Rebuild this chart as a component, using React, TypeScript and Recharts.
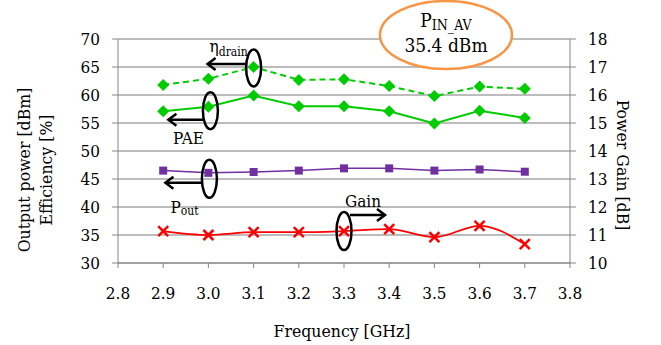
import React from "react";
import {
  ComposedChart,
  Line,
  XAxis,
  YAxis,
  CartesianGrid,
  ReferenceDot,
} from "recharts";

if (typeof document !== "undefined") document.body.style.margin = "0";

const frequency = [2.9, 3.0, 3.1, 3.2, 3.3, 3.4, 3.5, 3.6, 3.7];
const etaDrain = [61.8, 62.9, 65.0, 62.7, 62.8, 61.6, 59.8, 61.5, 61.1];
const pae = [57.1, 57.9, 59.9, 58.0, 58.0, 57.1, 54.9, 57.2, 55.9];
const pout = [46.5, 46.1, 46.25, 46.5, 46.9, 46.9, 46.5, 46.7, 46.3];
const gain = [11.14, 11.0, 11.1, 11.1, 11.14, 11.21, 10.92, 11.33, 10.67];

const freqTicks = [2.8, 2.9, 3.0, 3.1, 3.2, 3.3, 3.4, 3.5, 3.6, 3.7, 3.8];
const leftTicks = [30, 35, 40, 45, 50, 55, 60, 65, 70];
const rightTicks = [10, 11, 12, 13, 14, 15, 16, 17, 18];

const data = frequency.map((f, i) => ({
  f,
  eta: etaDrain[i],
  pae: pae[i],
  pout: pout[i],
  gain: gain[i],
}));

const FONT = "'DejaVu Serif Condensed', 'DejaVu Serif', serif";
const GREEN = "#00cc00";
const PURPLE = "#7030a0";
const RED = "#ff0000";
const AXIS = "#868686";

const Diamond = (p: any) => {
  const { cx, cy, index } = p;
  if (cx == null || cy == null) return <g key={index} />;
  return (
    <path
      key={index}
      d={`M${cx},${cy - 6} L${cx + 6},${cy} L${cx},${cy + 6} L${cx - 6},${cy} Z`}
      fill={GREEN}
    />
  );
};

const Square = (p: any) => {
  const { cx, cy, index } = p;
  if (cx == null || cy == null) return <g key={index} />;
  return <rect key={index} x={cx - 4} y={cy - 4} width={8} height={8} fill={PURPLE} />;
};

const Cross = (p: any) => {
  const { cx, cy, index } = p;
  if (cx == null || cy == null) return <g key={index} />;
  return (
    <path
      key={index}
      d={`M${cx - 5},${cy - 5} L${cx + 5},${cy + 5} M${cx + 5},${cy - 5} L${cx - 5},${cy + 5}`}
      stroke={RED}
      strokeWidth={2.5}
    />
  );
};

const arrowLeft = (x1: number, x2: number, y: number) => (
  <g stroke="#000" strokeWidth={2.5} fill="none">
    <line x1={x1} y1={y} x2={x2} y2={y} />
    <path d={`M${x2 + 8},${y - 6} L${x2},${y} L${x2 + 8},${y + 6}`} />
  </g>
);

const arrowRight = (x1: number, x2: number, y: number) => (
  <g stroke="#000" strokeWidth={2.5} fill="none">
    <line x1={x1} y1={y} x2={x2} y2={y} />
    <path d={`M${x2 - 8},${y - 6} L${x2},${y} L${x2 - 8},${y + 6}`} />
  </g>
);

const ring = (cx: number, cy: number, ry: number) => (
  <ellipse cx={cx} cy={cy} rx={7.5} ry={ry} fill="none" stroke="#000" strokeWidth={2.5} />
);

const EtaMark = ({ cx, cy }: any) => (
  <g>
    {ring(cx, cy + 1, 18.5)}
    {arrowLeft(cx - 8, cx - 46, cy - 3)}
    <text x={cx - 44} y={cy - 15} fontFamily={FONT} fontSize={17}>
      η<tspan dy={4} fontSize={12}>drain</tspan>
    </text>
  </g>
);

const PaeMark = ({ cx, cy }: any) => (
  <g>
    {ring(cx + 2, cy + 4, 18.5)}
    {arrowLeft(cx - 5, cx - 40, cy + 13)}
    <text x={cx - 20} y={cy + 37} textAnchor="middle" fontFamily={FONT} fontSize={17}>
      PAE
    </text>
  </g>
);

const PoutMark = ({ cx, cy }: any) => (
  <g>
    {ring(cx + 1, cy + 6, 19)}
    {arrowLeft(cx - 6, cx - 43, cy + 10)}
    <text x={cx - 38} y={cy + 40} fontFamily={FONT} fontSize={17}>
      P<tspan dy={2} fontSize={12}>out</tspan>
    </text>
  </g>
);

const GainMark = ({ cx, cy }: any) => (
  <g>
    {ring(cx, cy, 19)}
    {arrowRight(cx + 6, cx + 41, cy - 16)}
    <text x={cx + 1} y={cy - 24} fontFamily={FONT} fontSize={17}>
      Gain
    </text>
  </g>
);

export default function App() {
  return (
    <div
      style={{
        position: "relative",
        width: 661,
        height: 345,
        background: "#fff",
        fontFamily: FONT,
        fontStretch: "condensed",
      }}
    >
      <ComposedChart
        width={661}
        height={345}
        data={data}
        margin={{ top: 39, right: 0, bottom: 0, left: 0 }}
        style={{ fontFamily: FONT, fontStretch: "condensed" }}
      >
        <CartesianGrid yAxisId="left" vertical={false} stroke="#a6a6a6" strokeWidth={1.5} />
        <XAxis
          dataKey="f"
          type="number"
          domain={[2.8, 3.8]}
          ticks={freqTicks}
          tickFormatter={(v: number) => v.toFixed(1)}
          height={82}
          stroke={AXIS}
          tickSize={5}
          tickMargin={19}
          tick={{ fill: "#000", fontSize: 17, fontFamily: FONT }}
        />
        <YAxis
          yAxisId="left"
          domain={[30, 70]}
          ticks={leftTicks}
          width={118}
          stroke={AXIS}
          tickSize={6}
          tickMargin={12}
          tick={{ fill: "#000", fontSize: 17, fontFamily: FONT }}
        />
        <YAxis
          yAxisId="right"
          orientation="right"
          domain={[10, 18]}
          ticks={rightTicks}
          width={91}
          stroke={AXIS}
          tickSize={6}
          tickMargin={12}
          tick={{ fill: "#000", fontSize: 17, fontFamily: FONT, textAnchor: "start" }}
        />
        <Line
          yAxisId="left"
          dataKey="eta"
          stroke={GREEN}
          strokeWidth={2}
          strokeDasharray="6 4"
          dot={Diamond}
          isAnimationActive={false}
        />
        <Line
          yAxisId="left"
          dataKey="pae"
          stroke={GREEN}
          strokeWidth={2}
          dot={Diamond}
          isAnimationActive={false}
        />
        <Line
          yAxisId="left"
          dataKey="pout"
          stroke={PURPLE}
          strokeWidth={1.5}
          dot={Square}
          isAnimationActive={false}
        />
        <Line
          yAxisId="right"
          type="monotone"
          dataKey="gain"
          stroke={RED}
          strokeWidth={1.75}
          dot={Cross}
          isAnimationActive={false}
        />
        <ReferenceDot yAxisId="left" x={3.1} y={etaDrain[2]} shape={EtaMark} />
        <ReferenceDot yAxisId="left" x={3.0} y={pae[1]} shape={PaeMark} />
        <ReferenceDot yAxisId="left" x={3.0} y={pout[1]} shape={PoutMark} />
        <ReferenceDot yAxisId="right" x={3.3} y={gain[4]} shape={GainMark} />
      </ComposedChart>
      <svg
        width={661}
        height={345}
        style={{ position: "absolute", left: 0, top: 0, pointerEvents: "none", fontFamily: FONT }}
      >
        <text transform="translate(30,170) rotate(-90)" textAnchor="middle" fontSize={17.5}>
          Output power [dBm]
        </text>
        <text transform="translate(52,170) rotate(-90)" textAnchor="middle" fontSize={17.5}>
          Efficiency [%]
        </text>
        <text transform="translate(617,165) rotate(90)" textAnchor="middle" fontSize={17.5}>
          Power Gain [dB]
        </text>
        <text x={342} y={337} textAnchor="middle" fontSize={17.5}>
          Frequency [GHz]
        </text>
        <ellipse cx={446} cy={35} rx={66} ry={34} fill="#fff" stroke="#f79646" strokeWidth={2.5} />
        <text x={446} y={27} textAnchor="middle" fontSize={19}>
          P<tspan dy={3} fontSize={14}>IN_AV</tspan>
        </text>
        <text x={446} y={52} textAnchor="middle" fontSize={19}>
          35.4 dBm
        </text>
      </svg>
    </div>
  );
}
